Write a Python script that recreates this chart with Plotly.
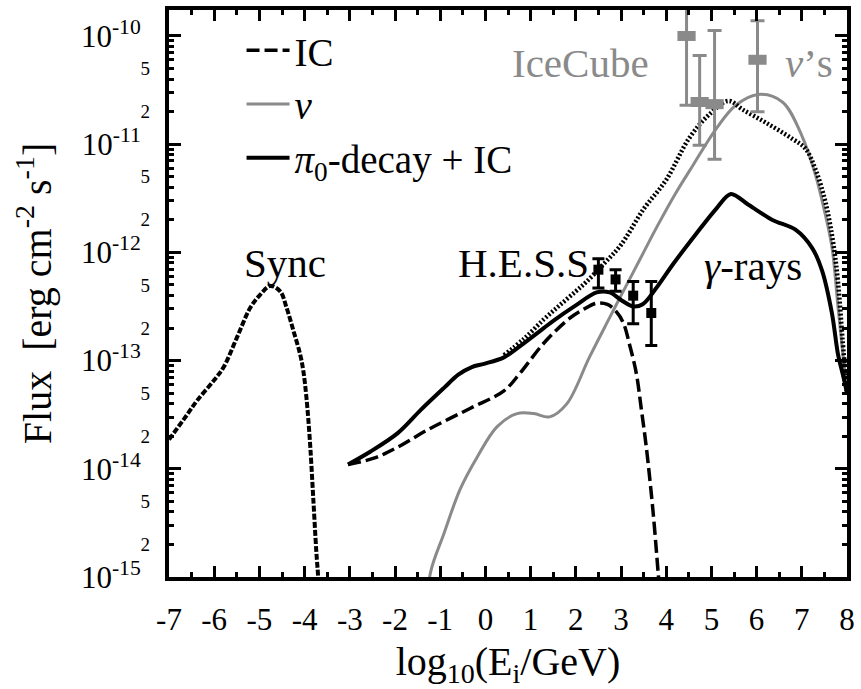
import plotly.graph_objects as go

# ---------------- data (x = log10(E/GeV), values = log10 flux) ----------------
sync_x = [-7.0, -6.6, -6.38, -6.0, -5.79, -5.5, -5.2, -4.98, -4.76, -4.54, -4.40,
          -4.25, -4.10, -4.03, -3.96, -3.88, -3.81, -3.74, -3.70, -3.68]
sync_logf = [-13.73, -13.50, -13.37, -13.18, -13.06, -12.79, -12.51, -12.39, -12.31,
             -12.36, -12.51, -12.72, -12.94, -13.09, -13.34, -13.76, -14.26, -14.77,
             -15.0, -15.2]

ic_x = [-3.04, -2.45, -1.94, -1.28, -0.33, 0.41, 0.76, 1.29, 1.86, 2.2, 2.46, 2.7,
        2.9, 3.05, 3.2, 3.34, 3.45, 3.56, 3.71, 3.82, 3.87]
ic_logf = [-13.96, -13.90, -13.80, -13.64, -13.44, -13.28, -13.12, -12.84, -12.61,
           -12.52, -12.47, -12.48, -12.55, -12.65, -12.87, -13.12, -13.45, -13.80,
           -14.40, -14.95, -15.2]

nu_x = [-1.30, -1.21, -0.91, -0.56, -0.18, 0.26, 0.70, 1.07, 1.42, 1.80, 2.30, 2.74,
        3.0, 3.4, 3.8, 4.2, 4.6, 5.1, 5.54, 6.04, 6.57, 7.0, 7.3, 7.52, 7.67, 7.80,
        7.9, 8.0]
nu_logf = [-15.3, -14.95, -14.59, -14.19, -13.89, -13.61, -13.49, -13.49, -13.52,
           -13.40, -12.97, -12.61, -12.40, -12.08, -11.76, -11.46, -11.19, -10.86,
           -10.64, -10.54, -10.61, -10.92, -11.28, -11.65, -11.96, -12.5, -12.9, -13.3]

tot_x = [-3.04, -2.54, -1.94, -1.44, -0.91, -0.60, -0.30, -0.03, 0.41, 0.85, 1.29, 1.51,
         2.0, 2.46, 2.75, 3.0, 3.27, 3.48, 3.78, 4.15, 4.66, 5.10, 5.43, 5.82, 6.35,
         6.86, 7.23, 7.45, 7.67, 7.80, 7.92, 8.0]
tot_logf = [-13.96, -13.84, -13.67, -13.46, -13.25, -13.13, -13.06, -13.03, -12.97, -12.84,
            -12.70, -12.63, -12.49, -12.37, -12.37, -12.44, -12.50, -12.48, -12.33,
            -12.11, -11.83, -11.60, -11.46, -11.56, -11.70, -11.79, -11.96, -12.17,
            -12.57, -12.94, -13.15, -13.3]

dot_x = [0.41, 0.85, 1.29, 1.64, 2.0, 2.24, 2.61, 3.0, 3.5, 4.0, 4.5, 4.94, 5.38,
         5.69, 6.2, 6.79, 7.08, 7.30, 7.52, 7.69, 7.80, 7.9, 8.0]
dot_logf = [-12.95, -12.80, -12.62, -12.49, -12.36, -12.27, -12.11, -11.93, -11.60,
            -11.33, -10.95, -10.73, -10.60, -10.68, -10.80, -10.95, -11.04, -11.23,
            -11.53, -11.90, -12.27, -12.8, -13.3]

hess_x = [2.50, 2.88, 3.27, 3.67]
hess_logf = [-12.16, -12.25, -12.40, -12.56]
hess_log_hi = [-12.06, -12.16, -12.27, -12.27]
hess_log_lo = [-12.33, -12.36, -12.66, -12.86]

icecube_x = [4.45, 4.74, 5.07, 6.02]
icecube_logf = [-10.00, -10.61, -10.63, -10.22]
icecube_log_hi = [-9.60, -10.18, -9.95, -9.86]
icecube_log_lo = [-10.64, -11.01, -11.14, -10.70]

x_ticks = list(range(-7, 9))
x_ticklabels = [str(v) for v in x_ticks]
decades = list(range(-15, -9))
decade_labels = ["10<sup>%d</sup>" % d for d in decades]
digit_vals = [m * 10.0 ** d for d in decades for m in (2, 5)]
digit_labels = [str(m) for d in decades for m in (2, 5)]

# ------------------------------------------------------------------------------
def lin(v):
    return [10.0 ** a for a in v]

GREY = "#8a8a8a"
FONT = "Liberation Serif"

fig = go.Figure()

fig.add_trace(go.Scatter(x=sync_x, y=lin(sync_logf), mode="lines", showlegend=False,
                         line=dict(color="black", width=4, dash="6px,2px", shape="spline", smoothing=1.0)))
fig.add_trace(go.Scatter(x=ic_x, y=lin(ic_logf), mode="lines", name="IC",
                         line=dict(color="black", width=3.5, dash="13px,5px", shape="spline", smoothing=1.0)))
fig.add_trace(go.Scatter(x=nu_x, y=lin(nu_logf), mode="lines", name="<i>ν</i>",
                         line=dict(color=GREY, width=3, shape="spline", smoothing=1.0)))
fig.add_trace(go.Scatter(x=tot_x, y=lin(tot_logf), mode="lines",
                         name="<i>π</i><sub>0</sub>-decay + IC",
                         line=dict(color="black", width=4, shape="spline", smoothing=0.9)))
fig.add_trace(go.Scatter(x=dot_x, y=lin(dot_logf), mode="lines", showlegend=False,
                         line=dict(color="black", width=4.5, dash="2px,2px", shape="spline", smoothing=1.0)))

hy = lin(hess_logf)
fig.add_trace(go.Scatter(
    x=hess_x, y=hy, mode="markers", showlegend=False,
    marker=dict(symbol="square", size=10, color="black"),
    error_y=dict(type="data", symmetric=False,
                 array=[h - y for h, y in zip(lin(hess_log_hi), hy)],
                 arrayminus=[y - l for l, y in zip(lin(hess_log_lo), hy)],
                 color="black", thickness=3, width=6)))

iy = lin(icecube_logf)
fig.add_trace(go.Scatter(
    x=icecube_x, y=iy, mode="markers", showlegend=False,
    marker=dict(symbol="line-ew", size=13, color=GREY, line=dict(color=GREY, width=10)),
    error_y=dict(type="data", symmetric=False,
                 array=[h - y for h, y in zip(lin(icecube_log_hi), iy)],
                 arrayminus=[y - l for l, y in zip(lin(icecube_log_lo), iy)],
                 color=GREY, thickness=3, width=7)))

# empty trace so the overlay axis (digit labels 2, 5) is drawn
fig.add_trace(go.Scatter(x=[], y=[], yaxis="y2", showlegend=False, hoverinfo="skip"))

yrange = [-15, -9.76]

fig.update_layout(
    width=861, height=689,
    margin=dict(l=169, r=8, t=6, b=112),
    paper_bgcolor="white", plot_bgcolor="white",
    font=dict(family=FONT, color="black", size=31),
    showlegend=True,
    legend=dict(x=0.107, y=0.985, xanchor="left", yanchor="top", bgcolor="rgba(0,0,0,0)",
                font=dict(size=39, family=FONT), itemwidth=43, tracegroupgap=0),
    xaxis=dict(range=[-7, 8], tickmode="array", tickvals=x_ticks, ticktext=x_ticklabels,
               ticks="inside", ticklen=11, tickwidth=3, tickcolor="black",
               minor=dict(dtick=0.5, tick0=0, ticks="inside", ticklen=5, tickwidth=3, tickcolor="black"),
               showline=True, linewidth=4, linecolor="black", mirror="ticks",
               showgrid=False, zeroline=False, tickfont=dict(size=31, family=FONT),
               ticklabelstandoff=12,
               title=dict(text="log<sub>10</sub>(E<sub>i</sub>/GeV)", font=dict(size=40, family=FONT),
                          standoff=13)),
    yaxis=dict(type="log", range=yrange, tickmode="array",
               tickvals=[10.0 ** d for d in decades], ticktext=decade_labels,
               ticks="inside", ticklen=12, tickwidth=3, tickcolor="black",
               minor=dict(tickvals=[m * 10.0 ** d for d in decades for m in range(2, 10)],
                          ticks="inside", ticklen=5, tickwidth=3, tickcolor="black"),
               showline=True, linewidth=4, linecolor="black", mirror="ticks",
               showgrid=False, zeroline=False, tickfont=dict(size=31, family=FONT),
               ticklabelstandoff=18,
               title=dict(text="Flux  [erg cm<sup>-2</sup> s<sup>-1</sup>]", font=dict(size=40, family=FONT),
                          standoff=18)),
    yaxis2=dict(type="log", range=yrange, overlaying="y", side="left", anchor="x",
                tickmode="array", tickvals=digit_vals, ticktext=digit_labels,
                ticks="", showline=False, showgrid=False, zeroline=False,
                tickfont=dict(size=19, family=FONT), ticklabelstandoff=18),
    annotations=[
        dict(text="Sync", x=-4.43, y=-12.10, xref="x", yref="y", showarrow=False,
             font=dict(size=41, family=FONT)),
        dict(text="H.E.S.S", x=0.85, y=-12.10, xref="x", yref="y", showarrow=False,
             font=dict(size=41, family=FONT)),
        dict(text="<i>γ</i>-rays", x=5.93, y=-12.13, xref="x", yref="y", showarrow=False,
             font=dict(size=41, family=FONT)),
        dict(text="IceCube", x=2.1, y=-10.25, xref="x", yref="y", showarrow=False,
             font=dict(size=41, color=GREY, family=FONT)),
        dict(text="<i>ν</i>’s", x=7.15, y=-10.25, xref="x", yref="y", showarrow=False,
             font=dict(size=41, color=GREY, family=FONT)),
    ],
)

fig.write_html("out.html")
